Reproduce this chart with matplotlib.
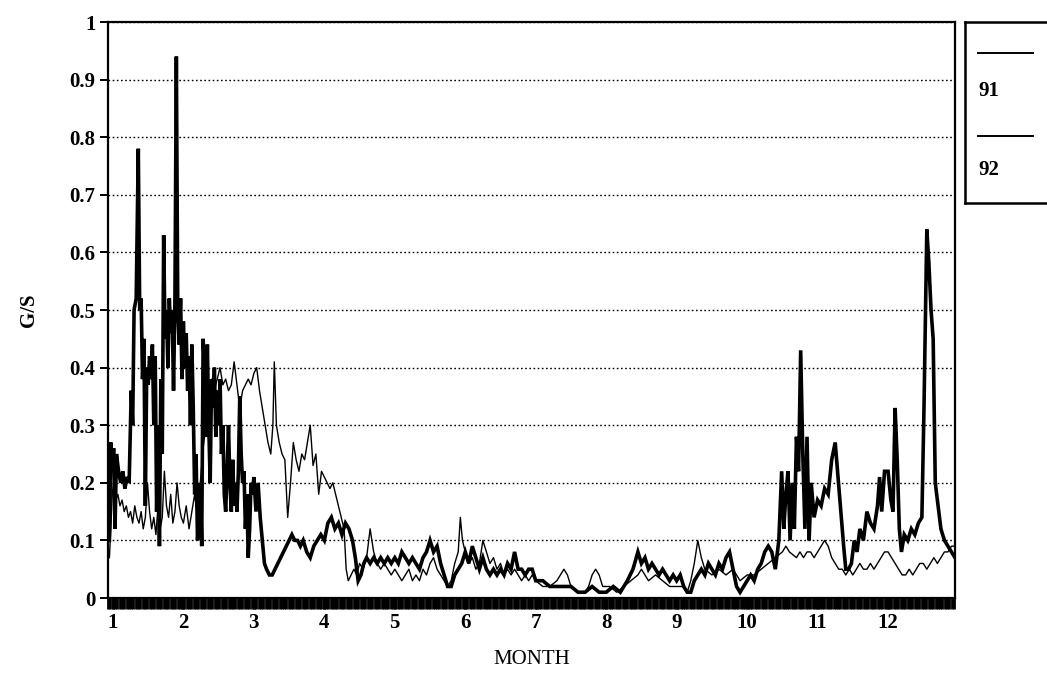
import numpy as np
import matplotlib
matplotlib.use("Agg")
import matplotlib.pyplot as plt

# ---- data (month position, G/S value) ----
x91 = [0.95, 0.97, 0.99, 1.01, 1.03, 1.05, 1.08, 1.11, 1.14, 1.17, 1.20, 1.23, 1.26, 1.28, 1.30, 1.33, 1.36, 1.38,
       1.40, 1.42, 1.44, 1.46, 1.48, 1.50, 1.52, 1.54, 1.56, 1.58, 1.60, 1.62, 1.64, 1.66, 1.68, 1.70, 1.72, 1.74,
       1.76, 1.78, 1.80, 1.82, 1.84, 1.86, 1.88, 1.90, 1.92, 1.94, 1.96, 1.98, 2.00, 2.02, 2.04, 2.06, 2.08, 2.10,
       2.12, 2.14, 2.16, 2.18, 2.20, 2.22, 2.24, 2.26, 2.28, 2.30, 2.32, 2.34, 2.36, 2.38, 2.40, 2.42, 2.44, 2.46,
       2.48, 2.50, 2.52, 2.54, 2.56, 2.58, 2.60, 2.62, 2.64, 2.66, 2.68, 2.70, 2.72, 2.74, 2.76, 2.78, 2.80, 2.82,
       2.84, 2.86, 2.88, 2.90, 2.92, 2.94, 2.96, 2.98, 3.00, 3.03, 3.06, 3.09, 3.12, 3.15, 3.18, 3.22, 3.26, 3.30,
       3.34, 3.38, 3.42, 3.46, 3.50, 3.54, 3.58, 3.62, 3.66, 3.70, 3.75, 3.80, 3.85, 3.90, 3.95, 4.00, 4.05, 4.10,
       4.15, 4.20, 4.25, 4.30, 4.35, 4.40, 4.44, 4.48, 4.52, 4.56, 4.60, 4.65, 4.70, 4.75, 4.80, 4.85, 4.90, 4.95,
       5.00, 5.05, 5.10, 5.15, 5.20, 5.25, 5.30, 5.35, 5.40, 5.45, 5.50, 5.55, 5.60, 5.65, 5.70, 5.75, 5.80, 5.85,
       5.90, 5.95, 6.00, 6.05, 6.10, 6.15, 6.20, 6.25, 6.30, 6.35, 6.40, 6.45, 6.50, 6.55, 6.60, 6.65, 6.70, 6.75,
       6.80, 6.85, 6.90, 6.95, 7.00, 7.05, 7.10, 7.20, 7.30, 7.40, 7.50, 7.60, 7.70, 7.80, 7.90, 8.00, 8.10, 8.20,
       8.30, 8.38, 8.45, 8.50, 8.55, 8.60, 8.65, 8.70, 8.75, 8.80, 8.85, 8.90, 8.95, 9.00, 9.05, 9.10, 9.15, 9.20,
       9.25, 9.30, 9.35, 9.40, 9.45, 9.50, 9.55, 9.60, 9.65, 9.70, 9.75, 9.80, 9.85, 9.90, 9.95, 10.00, 10.05,
       10.10, 10.15, 10.20, 10.25, 10.30, 10.35, 10.40, 10.45, 10.49, 10.52, 10.55, 10.58, 10.61, 10.64, 10.67,
       10.70, 10.73, 10.76, 10.79, 10.82, 10.85, 10.88, 10.91, 10.95, 11.00, 11.05, 11.10, 11.15, 11.20, 11.25,
       11.29, 11.33, 11.37, 11.40, 11.44, 11.48, 11.52, 11.56, 11.60, 11.65, 11.70, 11.75, 11.80, 11.85, 11.88,
       11.91, 11.95, 12.00, 12.04, 12.07, 12.10, 12.13, 12.16, 12.19, 12.23, 12.28, 12.33, 12.38, 12.43, 12.48,
       12.51, 12.55, 12.58, 12.61, 12.64, 12.67, 12.71, 12.75, 12.80, 12.85, 12.90, 12.95]
y91 = [0.10, 0.27, 0.22, 0.26, 0.12, 0.25, 0.22, 0.20, 0.22, 0.19, 0.21, 0.20, 0.36, 0.30, 0.50, 0.52, 0.78, 0.50,
       0.52, 0.38, 0.45, 0.16, 0.40, 0.37, 0.42, 0.38, 0.44, 0.30, 0.42, 0.15, 0.30, 0.09, 0.38, 0.25, 0.63, 0.45,
       0.50, 0.40, 0.52, 0.46, 0.50, 0.36, 0.52, 0.94, 0.50, 0.44, 0.52, 0.38, 0.48, 0.40, 0.46, 0.36, 0.42, 0.30,
       0.44, 0.33, 0.18, 0.25, 0.10, 0.14, 0.20, 0.09, 0.45, 0.40, 0.28, 0.44, 0.30, 0.20, 0.38, 0.33, 0.40, 0.28,
       0.36, 0.30, 0.38, 0.25, 0.30, 0.18, 0.15, 0.22, 0.30, 0.20, 0.15, 0.24, 0.16, 0.20, 0.15, 0.22, 0.35, 0.25,
       0.20, 0.22, 0.12, 0.18, 0.07, 0.12, 0.20, 0.18, 0.21, 0.15, 0.20, 0.14, 0.10, 0.06, 0.05, 0.04, 0.04, 0.05,
       0.06, 0.07, 0.08, 0.09, 0.10, 0.11, 0.10, 0.10, 0.09, 0.10, 0.08, 0.07, 0.09, 0.10, 0.11, 0.10, 0.13, 0.14,
       0.12, 0.13, 0.11, 0.13, 0.12, 0.10, 0.07, 0.03, 0.04, 0.06, 0.07, 0.06, 0.07, 0.06, 0.07, 0.06, 0.07, 0.06,
       0.07, 0.06, 0.08, 0.07, 0.06, 0.07, 0.06, 0.05, 0.07, 0.08, 0.10, 0.08, 0.09, 0.06, 0.04, 0.02, 0.02, 0.04,
       0.05, 0.06, 0.08, 0.06, 0.09, 0.07, 0.05, 0.07, 0.05, 0.04, 0.05, 0.04, 0.05, 0.04, 0.06, 0.05, 0.08, 0.05,
       0.05, 0.04, 0.05, 0.05, 0.03, 0.03, 0.03, 0.02, 0.02, 0.02, 0.02, 0.01, 0.01, 0.02, 0.01, 0.01, 0.02, 0.01,
       0.03, 0.05, 0.08, 0.06, 0.07, 0.05, 0.06, 0.05, 0.04, 0.05, 0.04, 0.03, 0.04, 0.03, 0.04, 0.02, 0.01, 0.01,
       0.03, 0.04, 0.05, 0.04, 0.06, 0.05, 0.04, 0.06, 0.05, 0.07, 0.08, 0.05, 0.02, 0.01, 0.02, 0.03, 0.04,
       0.03, 0.05, 0.06, 0.08, 0.09, 0.08, 0.05, 0.10, 0.22, 0.12, 0.18, 0.22, 0.10, 0.20, 0.12,
       0.28, 0.22, 0.43, 0.25, 0.12, 0.28, 0.10, 0.20, 0.14, 0.17, 0.16, 0.19, 0.18, 0.24, 0.27,
       0.21, 0.15, 0.09, 0.05, 0.05, 0.06, 0.10, 0.08, 0.12, 0.10, 0.15, 0.13, 0.12, 0.16, 0.21,
       0.15, 0.22, 0.22, 0.17, 0.15, 0.33, 0.24, 0.12, 0.08, 0.11, 0.10, 0.12, 0.11, 0.13, 0.14,
       0.33, 0.64, 0.58, 0.50, 0.45, 0.20, 0.16, 0.12, 0.10, 0.09, 0.08, 0.07]

x92 = [0.95, 0.97, 0.99, 1.01, 1.04, 1.07, 1.10, 1.13, 1.16, 1.19, 1.22, 1.25, 1.28, 1.31, 1.34, 1.37, 1.40, 1.43,
       1.46, 1.49, 1.52, 1.55, 1.58, 1.61, 1.64, 1.67, 1.70, 1.73, 1.76, 1.79, 1.82, 1.85, 1.88, 1.91, 1.94, 1.97,
       2.00, 2.04, 2.08, 2.12, 2.16, 2.20, 2.24, 2.28, 2.32, 2.36, 2.40, 2.44, 2.48, 2.52, 2.56, 2.60, 2.64, 2.68,
       2.72, 2.76, 2.80, 2.84, 2.88, 2.92, 2.96, 3.00, 3.04, 3.08, 3.12, 3.16, 3.20, 3.24, 3.27, 3.29, 3.32, 3.36,
       3.40, 3.44, 3.48, 3.52, 3.56, 3.60, 3.64, 3.68, 3.72, 3.76, 3.80, 3.84, 3.88, 3.92, 3.96, 4.00, 4.04, 4.08,
       4.12, 4.16, 4.20, 4.24, 4.28, 4.31, 4.34, 4.38, 4.42, 4.46, 4.50, 4.55, 4.60, 4.65, 4.70, 4.75, 4.80, 4.85,
       4.90, 4.95, 5.00, 5.05, 5.10, 5.15, 5.20, 5.25, 5.30, 5.35, 5.40, 5.45, 5.50, 5.55, 5.60, 5.65, 5.70, 5.75,
       5.80, 5.85, 5.90, 5.93, 5.96, 6.00, 6.05, 6.10, 6.15, 6.20, 6.25, 6.30, 6.35, 6.40, 6.45, 6.50, 6.55, 6.60,
       6.65, 6.70, 6.75, 6.80, 6.85, 6.90, 6.95, 7.00, 7.10, 7.20, 7.30, 7.35, 7.40, 7.45, 7.50, 7.60, 7.70, 7.75,
       7.80, 7.85, 7.90, 7.95, 8.05, 8.15, 8.25, 8.35, 8.45, 8.50, 8.55, 8.60, 8.70, 8.80, 8.90, 9.00, 9.10, 9.15,
       9.20, 9.25, 9.30, 9.35, 9.40, 9.50, 9.60, 9.70, 9.80, 9.90, 10.00, 10.10, 10.20, 10.30, 10.40, 10.50, 10.55,
       10.60, 10.70, 10.75, 10.80, 10.85, 10.90, 10.95, 11.00, 11.05, 11.10, 11.15, 11.20, 11.25, 11.30, 11.35,
       11.40, 11.45, 11.50, 11.55, 11.60, 11.65, 11.70, 11.75, 11.80, 11.85, 11.90, 11.95, 12.00, 12.05, 12.10,
       12.15, 12.20, 12.25, 12.30, 12.35, 12.40, 12.45, 12.50, 12.55, 12.60, 12.65, 12.70, 12.75, 12.80, 12.85,
       12.90, 12.95]
y92 = [0.07, 0.12, 0.18, 0.20, 0.17, 0.18, 0.16, 0.17, 0.15, 0.16, 0.14, 0.15, 0.13, 0.16, 0.14, 0.13, 0.15, 0.12,
       0.14, 0.20, 0.15, 0.12, 0.14, 0.11, 0.16, 0.12, 0.14, 0.22, 0.16, 0.14, 0.18, 0.13, 0.15, 0.20, 0.16, 0.14,
       0.13, 0.16, 0.12, 0.15, 0.18, 0.14, 0.20, 0.26, 0.30, 0.36, 0.38, 0.36, 0.38, 0.40, 0.37, 0.38, 0.36, 0.37,
       0.41, 0.37, 0.33, 0.36, 0.37, 0.38, 0.37, 0.39, 0.40, 0.36, 0.33, 0.30, 0.27, 0.25, 0.30, 0.41, 0.30, 0.27,
       0.25, 0.24, 0.14, 0.20, 0.27, 0.24, 0.22, 0.25, 0.24, 0.27, 0.30, 0.23, 0.25, 0.18, 0.22, 0.21, 0.20, 0.19,
       0.20, 0.18, 0.16, 0.14, 0.12, 0.05, 0.03, 0.04, 0.05, 0.04, 0.06, 0.05, 0.07, 0.12, 0.08, 0.06, 0.05, 0.06,
       0.05, 0.04, 0.05, 0.04, 0.03, 0.04, 0.05, 0.03, 0.04, 0.03, 0.05, 0.04, 0.06, 0.07, 0.05, 0.04, 0.03, 0.02,
       0.03, 0.06, 0.08, 0.14, 0.10, 0.08, 0.06, 0.07, 0.05, 0.06, 0.10, 0.08, 0.06, 0.07, 0.05, 0.06, 0.04, 0.05,
       0.04, 0.05, 0.04, 0.03, 0.04, 0.03, 0.04, 0.03, 0.02, 0.02, 0.03, 0.04, 0.05, 0.04, 0.02, 0.01, 0.01, 0.02,
       0.04, 0.05, 0.04, 0.02, 0.02, 0.01, 0.02, 0.03, 0.04, 0.05, 0.04, 0.03, 0.04, 0.03, 0.02, 0.02, 0.02, 0.01,
       0.03, 0.06, 0.10, 0.07, 0.05, 0.04, 0.05, 0.04, 0.05, 0.03, 0.04, 0.04, 0.05, 0.06, 0.07, 0.08, 0.09,
       0.08, 0.07, 0.08, 0.07, 0.08, 0.08, 0.07, 0.08, 0.09, 0.10, 0.09, 0.07, 0.06, 0.05, 0.05,
       0.04, 0.05, 0.04, 0.05, 0.06, 0.05, 0.05, 0.06, 0.05, 0.06, 0.07, 0.08, 0.08, 0.07, 0.06,
       0.05, 0.04, 0.04, 0.05, 0.04, 0.05, 0.06, 0.06, 0.05, 0.06, 0.07, 0.06, 0.07, 0.08, 0.08,
       0.09, 0.09]

series_names = ["91", "92"]
month_ticks = [1, 2, 3, 4, 5, 6, 7, 8, 9, 10, 11, 12]
month_labels = ["1", "2", "3", "4", "5", "6", "7", "8", "9", "10", "11", "12"]
y_ticks = [0, 0.1, 0.2, 0.3, 0.4, 0.5, 0.6, 0.7, 0.8, 0.9, 1.0]
y_labels = ["0", "0.1", "0.2", "0.3", "0.4", "0.5", "0.6", "0.7", "0.8", "0.9", "1"]
x_title = "MONTH"
y_title = "G/S"

plt.rcParams["font.family"] = ["Liberation Serif", "DejaVu Serif"]

W, H = 1047, 676
fig = plt.figure(figsize=(W / 100, H / 100), dpi=100)
ax = fig.add_axes([108 / W, 78 / H, (955 - 108) / W, (598 - 22) / H])

ax.plot(x91, y91, color="black", lw=2.6, solid_joinstyle="miter", zorder=3)
ax.plot(x92, y92, color="black", lw=1.0, zorder=4)

ax.set_xlim(0.93, 12.95)
ax.set_ylim(0, 1)

ax.set_yticks(y_ticks)
ax.set_yticklabels(y_labels, fontsize=15, fontweight="bold")
ax.set_xticks(month_ticks)
ax.set_xticklabels(month_labels, fontsize=15, fontweight="bold")
ax.set_xticks(np.arange(0.93, 12.95, 1 / 30.4), minor=True)

ax.tick_params(axis="x", which="both", direction="out", length=8, width=2.0, pad=3, color="black")
ax.tick_params(axis="y", which="major", direction="out", length=6, width=1.4, pad=3)

ax.yaxis.grid(True, linestyle=(0, (1.2, 1.8)), color="black", linewidth=1.0)
ax.set_axisbelow(True)

for s in ax.spines.values():
    s.set_linewidth(1.6)
    s.set_color("black")

ax.set_xlabel(x_title, fontsize=15, labelpad=12)
ax.set_ylabel(y_title, fontsize=15, fontweight="bold", labelpad=22)

# legend box (line above each label, box cut at right edge)
lax = fig.add_axes([965 / W, (H - 203) / H, 100 / W, 181 / H])
lax.set_xlim(0, 1)
lax.set_ylim(0, 1)
lax.set_xticks([])
lax.set_yticks([])
for s in lax.spines.values():
    s.set_linewidth(1.8)
leg_line_y = [0.83, 0.37]
leg_text_y = [0.62, 0.18]
for name, ly, ty in zip(series_names, leg_line_y, leg_text_y):
    lax.plot([0.13, 0.68], [ly, ly], color="black", lw=1.4)
    lax.text(0.13, ty, name, fontsize=15, fontweight="bold", va="center", ha="left")

fig.savefig("out.png", dpi=100)
